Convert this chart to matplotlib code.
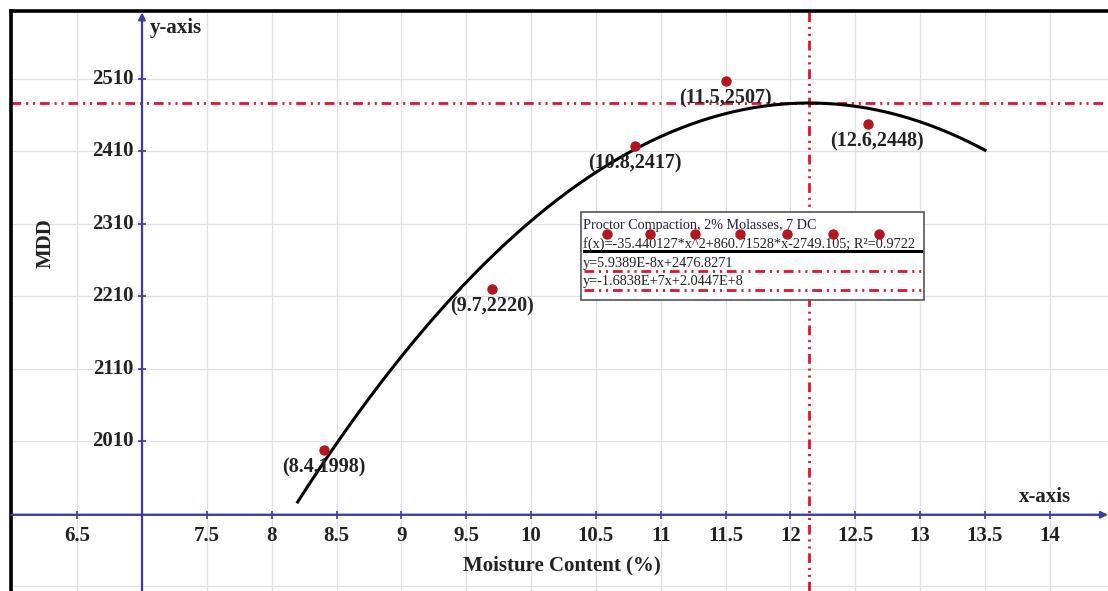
import numpy as np
import matplotlib
matplotlib.use('Agg')
import matplotlib.pyplot as plt
import matplotlib.transforms as mtransforms

# data
moisture = [8.4, 9.7, 10.8, 11.5, 12.6]
mdd = [1998, 2220, 2417, 2507, 2448]
point_labels = ['(8.4,1998)', '(9.7,2220)', '(10.8,2417)', '(11.5,2507)', '(12.6,2448)']
label_dx = [0, 0, 0, 0, 6]          # label nudge in points
fit_coef = [-35.440127, 860.71528, -2749.105]
fit_from, fit_to = 8.2, 13.5
hline_y = 2476.8271
vline_x = 2.0447E+8 / 1.6838E+7
x_ticks = [6.5, 7.5, 8, 8.5, 9, 9.5, 10, 10.5, 11, 11.5, 12, 12.5, 13, 13.5, 14]
y_ticks = [2010, 2110, 2210, 2310, 2410, 2510]
x_origin, y_origin = 7, 1908

legend_title = 'Proctor Compaction, 2% Molasses, 7 DC'
legend_rows = ['f(x)=-35.440127*x^2+860.71528*x-2749.105; R\u00b2=0.9722',
               'y=5.9389E-8x+2476.8271',
               'y=-1.6838E+7x+2.0447E+8']

RED = '#e0142c'
DOT = '#b3161f'
AXC = '#3b3ba6'
SERIF = ['Liberation Serif', 'DejaVu Serif']
plt.rcParams['lines.scale_dashes'] = False
DASHDOT2 = (0, (7, 3.5, 1.5, 3.5, 1.5, 3.5))

fig = plt.figure(figsize=(11.08, 5.91), dpi=100)
ax = fig.add_axes([11/1108, 0, 1097/1108, 580/591])
# pixel coords of the image (origin top-left)
px = mtransforms.Affine2D().scale(1/100, -1/100).translate(0, 5.91) + fig.dpi_scale_trans

for s in ['right', 'bottom']:
    ax.spines[s].set_visible(False)
for s in ['top', 'left']:
    ax.spines[s].set_linewidth(2.6)
    ax.spines[s].set_color('black')

# grid
ax.set_xticks(np.arange(6, 14.51, 0.5))
ax.set_yticks(np.arange(1810, 2611, 100))
ax.tick_params(length=0, labelbottom=False, labelleft=False)
ax.grid(True, color='#e0e0e8', lw=0.9)
ax.set_axisbelow(True)
ax.set_xlim(5.99, 14.448)
ax.set_ylim(1802.8, 2603.9)

# axes with arrows
ax.annotate('', xy=(14.448, y_origin), xytext=(5.99, y_origin),
            arrowprops=dict(arrowstyle='-|>', color=AXC, lw=1.6, mutation_scale=10,
                            shrinkA=0, shrinkB=0))
ax.annotate('', xy=(x_origin, 2602), xytext=(x_origin, 1802.8),
            arrowprops=dict(arrowstyle='-|>', color=AXC, lw=1.6, mutation_scale=10,
                            shrinkA=0, shrinkB=0))
ax.plot(x_ticks, [y_origin] * len(x_ticks), ls='none', marker='|', ms=6, mew=1.2, color=AXC)
ax.plot([x_origin] * len(y_ticks), y_ticks, ls='none', marker='_', ms=6, mew=1.2, color=AXC)

for xt in x_ticks:
    ax.annotate('%g' % xt, (xt, y_origin), xytext=(0, -15), textcoords='offset points',
                ha='center', va='center', fontsize=15, fontweight='bold', family=SERIF,
                color='#222222')
for yt in y_ticks:
    ax.annotate('%d' % yt, (x_origin, yt), xytext=(-6, 0), textcoords='offset points',
                ha='right', va='center', fontsize=15, fontweight='bold', family=SERIF,
                color='#222222')

# reference lines
ax.axhline(hline_y, color=RED, lw=2, ls=DASHDOT2)
ax.axvline(vline_x, color=RED, lw=2, ls=DASHDOT2)

# fitted curve
xs = np.linspace(fit_from, fit_to, 200)
ax.plot(xs, np.polyval(fit_coef, xs), color='black', lw=2.2)

# points
ax.plot(moisture, mdd, ls='none', marker='o', ms=6.5, color=DOT, zorder=5)
for x, y, lab, dx in zip(moisture, mdd, point_labels, label_dx):
    ax.annotate(lab, (x, y), xytext=(dx, -12.5), textcoords='offset points',
                ha='center', va='center', fontsize=14.5, fontweight='bold',
                family=SERIF, color='#222222', zorder=6)

# axis titles
fig.text(150, 28, 'y-axis', transform=px, ha='left', va='center', fontsize=15,
         fontweight='bold', family=SERIF, color='#222222')
fig.text(1019, 497, 'x-axis', transform=px, ha='left', va='center', fontsize=15,
         fontweight='bold', family=SERIF, color='#222222')
fig.text(46, 243, 'MDD', transform=px, ha='center', va='center', rotation=90,
         fontsize=15, fontweight='bold', family=SERIF, color='#222222')
fig.text(562, 565, 'Moisture Content (%)', transform=px, ha='center', va='center',
         fontsize=15, fontweight='bold', family=SERIF, color='#222222')

# legend box
box = plt.Rectangle((581, 300), 343, -88, transform=px, fill=True, fc='white',
                    ec='#555555', lw=1.2, zorder=7)
fig.add_artist(box)
fig.text(583, 225, legend_title, transform=px, ha='left', va='center', fontsize=10.2,
         family=SERIF, color='#222244', zorder=8)
fig.add_artist(plt.Line2D([607, 650, 695, 740, 787, 833, 879], [234] * 7, transform=px,
                          ls='none', marker='o', ms=6.5, color=DOT, zorder=9))
fig.text(583, 244, legend_rows[0], transform=px, ha='left', va='center', fontsize=10.3,
         family=SERIF, color='#222222', zorder=8)
fig.add_artist(plt.Line2D([584, 921], [251, 251], transform=px, color='black', lw=2.2, zorder=8))
fig.text(583, 263, legend_rows[1], transform=px, ha='left', va='center', fontsize=10.3,
         family=SERIF, color='#222222', zorder=8)
fig.add_artist(plt.Line2D([584, 921], [271, 271], transform=px, color=RED, lw=2,
                          ls=DASHDOT2, zorder=8))
fig.text(583, 282, legend_rows[2], transform=px, ha='left', va='center', fontsize=10.3,
         family=SERIF, color='#222222', zorder=8)
fig.add_artist(plt.Line2D([584, 921], [290, 290], transform=px, color=RED, lw=2,
                          ls=DASHDOT2, zorder=8))

fig.savefig('out.png', dpi=100)
